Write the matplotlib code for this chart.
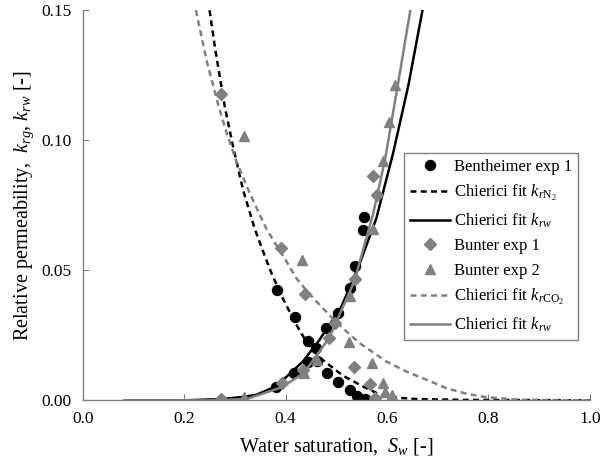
import matplotlib
matplotlib.use("Agg")
import matplotlib.pyplot as plt

plt.rcParams['font.family'] = ['Liberation Serif', 'DejaVu Serif']
plt.rcParams['mathtext.fontset'] = 'custom'
plt.rcParams['mathtext.rm'] = 'Liberation Serif'
plt.rcParams['mathtext.it'] = 'Liberation Serif:italic'
plt.rcParams['font.size'] = 12

# Bentheimer exp 1 (N2 / water)
bent_sw_krg = [0.383, 0.419, 0.444, 0.461, 0.481, 0.504, 0.528, 0.540, 0.556]
bent_krg = [0.0425, 0.0322, 0.0230, 0.0153, 0.0105, 0.0070, 0.0038, 0.0015, 0.0005]
bent_sw_krw = [0.381, 0.417, 0.444, 0.460, 0.480, 0.503, 0.527, 0.536, 0.553, 0.555]
bent_krw = [0.0053, 0.0104, 0.0149, 0.0200, 0.0278, 0.0335, 0.0432, 0.0515, 0.0656, 0.0705]

# Bunter exp 1 (CO2 / water)
bun1_sw_krg = [0.272, 0.391, 0.438, 0.535, 0.567, 0.576]
bun1_krg = [0.1178, 0.0585, 0.0408, 0.0129, 0.0063, 0.0010]
bun1_sw_krw = [0.272, 0.392, 0.434, 0.486, 0.497, 0.536, 0.573, 0.580]
bun1_krw = [0.0005, 0.0066, 0.0117, 0.0239, 0.0298, 0.0467, 0.0863, 0.0790]

# Bunter exp 2
bun2_sw_krg = [0.318, 0.433, 0.525, 0.571, 0.592, 0.597, 0.610]
bun2_krg = [0.1016, 0.0540, 0.0226, 0.0143, 0.0068, 0.0032, 0.0021]
bun2_sw_krw = [0.318, 0.436, 0.461, 0.527, 0.573, 0.593, 0.603, 0.615]
bun2_krw = [0.0012, 0.0105, 0.0156, 0.0400, 0.0660, 0.0920, 0.1070, 0.1213]

# Chierici fits
fit_n2_sw = [0.250, 0.262, 0.280, 0.297, 0.316, 0.339, 0.356, 0.372, 0.395, 0.420,
             0.441, 0.467, 0.513, 0.553, 0.586, 0.620, 0.660, 0.750, 1.000]
fit_n2_kr = [0.150, 0.134, 0.113, 0.097, 0.081, 0.066, 0.057, 0.049, 0.039, 0.0295,
             0.0225, 0.0165, 0.0095, 0.0053, 0.0022, 0.0010, 0.0005, 0.0002, 0.0]
fit_bent_w_sw = [0.083, 0.200, 0.273, 0.310, 0.342, 0.382, 0.434, 0.467, 0.510,
                 0.545, 0.579, 0.612, 0.642, 0.670]
fit_bent_w_kr = [0.0, 0.0, 0.0005, 0.0012, 0.0021, 0.0055, 0.0149, 0.0233, 0.0360,
                 0.0520, 0.0700, 0.0950, 0.1210, 0.1500]
fit_co2_sw = [0.223, 0.245, 0.268, 0.285, 0.302, 0.324, 0.346, 0.362, 0.379, 0.400,
              0.421, 0.442, 0.464, 0.500, 0.546, 0.599, 0.638, 0.678, 0.717, 0.757,
              0.796, 0.862, 1.000]
fit_co2_kr = [0.150, 0.130, 0.113, 0.102, 0.0925, 0.082, 0.0726, 0.066, 0.0605, 0.054,
              0.047, 0.042, 0.0374, 0.030, 0.022, 0.0149, 0.0111, 0.0079, 0.0047, 0.0025,
              0.0012, 0.0002, 0.0]
fit_bun_w_sw = [0.083, 0.250, 0.323, 0.392, 0.436, 0.486, 0.536, 0.573, 0.596, 0.622, 0.646]
fit_bun_w_kr = [0.0, 0.0, 0.0005, 0.0050, 0.0105, 0.0240, 0.0460, 0.0720, 0.0925, 0.1220, 0.1500]

grey = '#808080'
ms = 7.2
lw = 1.8
dash = (2.4, 1.7)

fig = plt.figure(figsize=(6.0, 4.65), dpi=100)
ax = fig.add_axes([0.138, 0.139, 0.845, 0.839])

ax.plot(bent_sw_krg, bent_krg, 'o', color='black', ms=ms, label='Bentheimer exp 1')
ax.plot(bent_sw_krw, bent_krw, 'o', color='black', ms=ms)
ax.plot(fit_n2_sw, fit_n2_kr, '--', color='black', lw=lw, dashes=dash,
        label=r'Chierici fit $k_{r\mathrm{N}_2}$')
ax.plot(fit_bent_w_sw, fit_bent_w_kr, '-', color='black', lw=lw,
        label=r'Chierici fit $k_{rw}$')
ax.plot(bun1_sw_krg, bun1_krg, 'D', color=grey, ms=ms - 1.5, label='Bunter exp 1')
ax.plot(bun1_sw_krw, bun1_krw, 'D', color=grey, ms=ms - 1.5)
ax.plot(bun2_sw_krg, bun2_krg, '^', color=grey, ms=ms + 0.5, label='Bunter exp 2')
ax.plot(bun2_sw_krw, bun2_krw, '^', color=grey, ms=ms + 0.5)
ax.plot(fit_co2_sw, fit_co2_kr, '--', color=grey, lw=lw, dashes=dash,
        label=r'Chierici fit $k_{r\mathrm{CO}_2}$')
ax.plot(fit_bun_w_sw, fit_bun_w_kr, '-', color=grey, lw=lw,
        label=r'Chierici fit $k_{rw}$')

ax.set_xlim(0, 1.0)
ax.set_ylim(0, 0.15)
ax.set_xticks([0.0, 0.2, 0.4, 0.6, 0.8, 1.0])
ax.set_xticklabels(['0.0', '0.2', '0.4', '0.6', '0.8', '1.0'])
ax.set_yticks([0.0, 0.05, 0.10, 0.15])
ax.set_yticklabels(['0.00', '0.05', '0.10', '0.15'])
ax.tick_params(direction='in', length=4, color=grey, labelsize=12.5)
ax.tick_params(axis='x', pad=8)
ax.tick_params(axis='y', pad=8)

for s in ['top', 'right']:
    ax.spines[s].set_visible(False)
for s in ['left', 'bottom']:
    ax.spines[s].set_color(grey)
    ax.spines[s].set_linewidth(1.0)

ax.set_xlabel(r'Water saturation,  $S_w$ [-]', fontsize=14.5, labelpad=6)
ax.set_ylabel(r'Relative permeability,  $k_{rg}$, $k_{rw}$ [-]', fontsize=14.5, labelpad=4)

leg = ax.legend(loc='upper right', bbox_to_anchor=(0.976, 0.634), fancybox=False,
                framealpha=1, edgecolor=grey, fontsize=12, handlelength=2.4,
                labelspacing=0.5, borderpad=0.35, handletextpad=0.25, borderaxespad=0)
leg.get_frame().set_linewidth(1.0)

fig.savefig('out.png', dpi=100)
